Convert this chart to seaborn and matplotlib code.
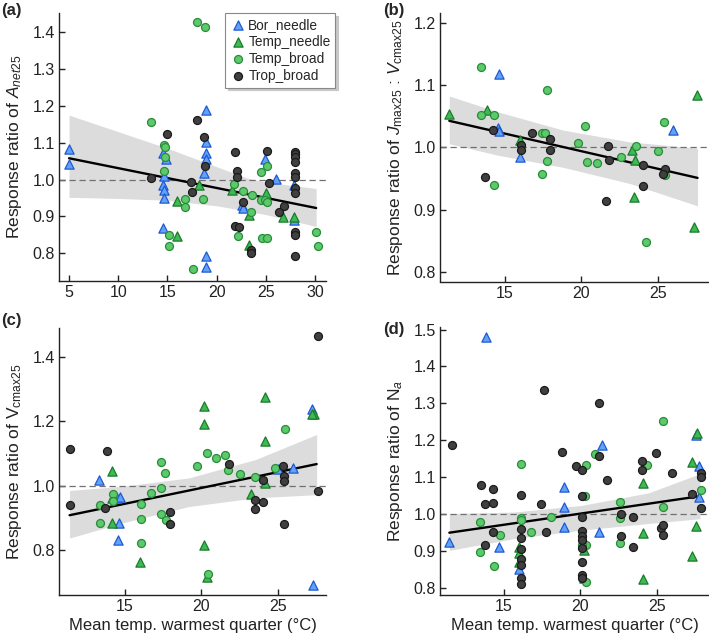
import pandas as pd
import seaborn as sns
import matplotlib.pyplot as plt

sns.set_style("ticks")
plt.rcParams["font.family"] = ["Liberation Sans", "DejaVu Sans"]
plt.rcParams["mathtext.fontset"] = "custom"
plt.rcParams["mathtext.rm"] = "Liberation Sans"
plt.rcParams["mathtext.it"] = "Liberation Sans:italic"
plt.rcParams["mathtext.bf"] = "Liberation Sans:bold"

# === Data ===
GROUPS = ["Bor_needle", "Temp_needle", "Temp_broad", "Trop_broad"]

# (a) Anet25
bor_x_a = [5.0, 5.0, 14.55, 14.86, 14.6, 14.55, 14.65, 14.65, 14.55, 18.92, 18.92, 18.92, 18.92, 18.7, 18.92, 18.92, 22.55, 22.7, 24.9, 26.0, 27.8, 27.87]
bor_y_a = [1.083, 1.043, 1.073, 1.055, 1.010, 0.986, 0.972, 0.949, 0.870, 1.189, 1.101, 1.071, 1.056, 1.017, 0.794, 0.762, 0.931, 0.922, 1.055, 1.002, 0.986, 0.891]
tn_x_a = [16.0, 16.0, 18.25, 21.53, 23.3, 23.3, 25.0, 26.7, 27.87]
tn_y_a = [0.942, 0.847, 0.986, 0.972, 0.904, 0.824, 0.963, 0.898, 0.898]
tb_x_a = [13.33, 14.65, 14.7, 14.76, 14.65, 15.13, 15.13, 16.79, 16.79, 17.64, 17.97, 18.82, 18.58, 21.8, 22.65, 22.14, 23.46, 23.6, 24.5, 24.5, 24.9, 24.58, 25.1, 25.1, 25.1, 30.1, 30.27]
tb_y_a = [1.155, 1.093, 1.088, 1.062, 1.023, 0.849, 0.821, 0.948, 0.925, 0.757, 1.428, 1.414, 0.948, 0.987, 0.969, 0.847, 0.913, 0.958, 1.02, 0.945, 0.945, 0.843, 0.841, 1.038, 0.938, 0.859, 0.821]
trb_x_a = [13.33, 14.99, 17.36, 17.47, 17.97, 18.75, 18.82, 21.87, 22.1, 22.1, 21.87, 22.28, 22.7, 23.46, 23.46, 25.1, 25.36, 26.37, 26.88,
           27.97, 27.97, 27.97, 27.97, 27.97, 27.97, 27.97, 27.97, 27.97, 27.97, 27.97]
trb_y_a = [1.005, 1.123, 0.994, 0.967, 1.162, 1.115, 1.037, 1.076, 1.024, 1.008, 0.874, 0.872, 0.938, 0.809, 0.800, 1.079, 0.992, 0.913, 0.929,
           1.076, 1.070, 1.062, 1.047, 1.017, 1.008, 0.978, 0.965, 0.859, 0.850, 0.794]
fit_x_a = [5.0, 30.1]
fit_y_a = [1.058, 0.923]
band_x_a = [5.0, 10.0, 15.0, 20.0, 23.0, 25.0, 30.1]
band_lo_a = [0.952, 0.949, 0.944, 0.929, 0.915, 0.905, 0.873]
band_hi_a = [1.175, 1.130, 1.085, 1.035, 1.005, 0.993, 0.976]

# (b) Jmax25 : Vcmax25
bor_x_b = [14.61, 14.56, 14.61, 15.98, 26.0]
bor_y_b = [1.118, 1.032, 1.027, 0.985, 1.029]
tn_x_b = [11.36, 13.8, 15.98, 23.34, 23.5, 23.45, 27.57, 27.35]
tn_y_b = [1.054, 1.061, 1.012, 0.996, 0.98, 0.921, 1.085, 0.872]
tb_x_b = [13.41, 13.41, 14.28, 14.28, 17.4, 17.61, 17.72, 17.72, 17.4, 19.75, 20.23, 20.4, 20.99, 22.58, 23.56, 25.02, 25.41, 25.46, 24.22]
tb_y_b = [1.129, 1.052, 1.052, 0.940, 1.024, 1.024, 1.093, 0.979, 0.957, 1.008, 1.035, 0.976, 0.975, 0.985, 1.002, 0.994, 1.041, 0.955, 0.848]
trb_x_b = [13.69, 14.24, 16.05, 16.05, 16.74, 17.94, 17.94, 21.75, 21.82, 21.58, 24.04, 24.04, 25.46, 25.35]
trb_y_b = [0.952, 1.029, 1.004, 0.996, 1.024, 1.013, 0.996, 1.003, 0.980, 0.914, 0.971, 0.938, 0.966, 0.958]
fit_x_b = [11.36, 27.6]
fit_y_b = [1.043, 0.951]
band_x_b = [11.36, 14.46, 18.81, 23.17, 27.6]
band_lo_b = [1.006, 0.988, 0.968, 0.942, 0.906]
band_hi_b = [1.083, 1.058, 1.028, 1.009, 0.999]

# (c) Vcmax25
bor_x_c = [13.33, 14.63, 14.57, 14.48, 14.7, 27.24, 26.0, 25.0, 27.3]
bor_y_c = [1.018, 0.883, 0.831, 0.961, 0.964, 1.237, 1.055, 1.052, 0.691]
tn_x_c = [14.15, 14.15, 14.15, 16.0, 20.17, 20.17, 20.17, 20.35, 24.15, 24.15, 24.15, 23.28, 27.35, 27.24]
tn_y_c = [1.046, 0.961, 0.883, 0.762, 1.247, 1.192, 0.814, 0.715, 1.276, 1.14, 1.008, 0.974, 1.224, 1.224]
tb_x_c = [13.37, 13.37, 14.26, 14.26, 16.04, 16.04, 16.04, 16.74, 17.37, 17.37, 17.37, 17.61, 17.72, 19.74, 20.39, 20.96, 20.43, 21.59, 21.76, 22.57, 23.54, 24.85, 25.46]
tb_y_c = [0.940, 0.883, 0.974, 0.953, 0.943, 0.896, 0.821, 0.977, 0.993, 1.074, 0.912, 1.039, 0.892, 1.060, 1.100, 1.086, 0.725, 1.094, 1.050, 1.036, 1.026, 1.055, 1.177]
trb_x_c = [11.43, 11.43, 13.87, 13.72, 17.96, 17.96, 21.8, 24.04, 24.04, 23.54, 23.54, 25.35, 25.43, 25.43, 25.43, 27.63, 27.63]
trb_y_c = [1.114, 0.940, 1.107, 0.932, 0.918, 0.881, 1.067, 1.018, 0.948, 0.954, 0.927, 1.060, 1.029, 1.015, 0.881, 1.466, 0.982]
fit_x_c = [11.4, 27.55]
fit_y_c = [0.908, 1.067]
band_x_c = [11.4, 14.85, 19.2, 23.55, 27.55]
band_lo_c = [0.837, 0.884, 0.935, 0.962, 0.972]
band_hi_c = [0.985, 0.998, 1.024, 1.081, 1.159]

# (d) Na
bor_x_d = [13.86, 11.44, 14.67, 15.99, 18.96, 18.96, 18.96, 21.42, 21.2, 27.53, 27.75, 27.75]
bor_y_d = [1.480, 0.925, 0.911, 0.850, 1.072, 1.019, 0.965, 1.187, 0.952, 1.214, 1.130, 1.047]
tn_x_d = [15.99, 15.99, 15.99, 20.23, 20.23, 24.08, 24.08, 24.08, 27.27, 27.27, 27.6, 27.53]
tn_y_d = [0.911, 0.895, 0.869, 0.902, 0.825, 1.083, 0.947, 0.823, 1.141, 0.886, 1.220, 0.967]
tb_x_d = [13.46, 13.46, 14.78, 14.34, 16.10, 16.10, 16.10, 16.76, 18.08, 20.28, 20.39, 20.39, 20.39, 20.12, 20.94, 24.34, 22.58, 22.58, 22.58, 25.4, 25.4, 27.86]
tb_y_d = [0.977, 0.897, 0.944, 0.859, 1.135, 0.988, 0.983, 0.952, 0.992, 1.049, 1.132, 0.916, 0.816, 0.916, 1.162, 1.132, 1.033, 0.988, 0.920, 1.252, 1.018, 1.066]
trb_x_d = [11.6, 13.51, 13.75, 13.75, 14.28, 14.28, 14.28,
           16.10, 16.10, 16.10, 16.10, 16.10, 16.10, 16.10, 16.10,
           17.64, 17.42, 17.75, 18.8, 19.73,
           20.12, 20.12, 20.12, 20.12, 20.12, 20.12, 20.12, 20.12, 20.12, 20.12,
           21.22, 21.22, 21.75, 22.65, 22.65, 23.46, 23.46, 24.01, 24.01, 24.96,
           25.29, 25.4, 25.4, 25.99, 27.31, 27.86, 27.86, 27.86]
trb_y_d = [1.186, 1.078, 1.026, 0.916, 1.067, 1.030, 0.952,
           1.051, 0.958, 0.935, 0.906, 0.879, 0.861, 0.827, 0.809,
           1.336, 1.028, 0.952, 1.168, 1.131,
           1.119, 1.049, 0.992, 0.953, 0.941, 0.929, 0.908, 0.869, 0.834, 0.825,
           1.300, 1.158, 1.092, 1.001, 0.940, 0.992, 0.911, 1.143, 1.119, 1.166,
           0.961, 0.943, 0.970, 1.112, 1.053, 1.112, 1.101, 1.015]
fit_x_d = [11.44, 27.81]
fit_y_d = [0.949, 1.048]
band_x_d = [11.44, 15.66, 20.06, 24.45, 27.81]
band_lo_d = [0.901, 0.933, 0.956, 0.974, 0.987]
band_hi_d = [1.001, 1.005, 1.023, 1.057, 1.109]

# === Styles ===
fills = {"Bor_needle": "#62a2f6", "Temp_needle": "#3dba52", "Temp_broad": "#5cc96c", "Trop_broad": "#404040"}
edges = {"Bor_needle": "#1f59d2", "Temp_needle": "#1c7a2d", "Temp_broad": "#2a8c3a", "Trop_broad": "#1a1a1a"}
markers = {"Bor_needle": "^", "Temp_needle": "^", "Temp_broad": "o", "Trop_broad": "o"}
sizes = {"Bor_needle": 44, "Temp_needle": 44, "Temp_broad": 33, "Trop_broad": 33}

XLABEL = "Mean temp. warmest quarter (°C)"

panels = [
    dict(pts={"Bor_needle": (bor_x_a, bor_y_a), "Temp_needle": (tn_x_a, tn_y_a),
              "Temp_broad": (tb_x_a, tb_y_a), "Trop_broad": (trb_x_a, trb_y_a)},
         fit=(fit_x_a, fit_y_a), band=(band_x_a, band_lo_a, band_hi_a),
         rect=[59 / 709, 1 - 281 / 640, 267 / 709, 268 / 640],
         xlim=(3.98, 31.1), ylim=(0.725, 1.452),
         xticks=[5, 10, 15, 20, 25, 30], yticks=[0.8, 0.9, 1.0, 1.1, 1.2, 1.3, 1.4],
         ylabel="Response ratio of $\\mathit{A}_{\\mathit{net25}}$", xlabel=None, tag="(a)", tagpos=(1, 3)),
    dict(pts={"Bor_needle": (bor_x_b, bor_y_b), "Temp_needle": (tn_x_b, tn_y_b),
              "Temp_broad": (tb_x_b, tb_y_b), "Trop_broad": (trb_x_b, trb_y_b)},
         fit=(fit_x_b, fit_y_b), band=(band_x_b, band_lo_b, band_hi_b),
         rect=[440 / 709, 1 - 281.5 / 640, 269 / 709, 268 / 640],
         xlim=(10.75, 28.35), ylim=(0.784, 1.216),
         xticks=[15, 20, 25], yticks=[0.8, 0.9, 1.0, 1.1, 1.2],
         ylabel="Response ratio of $\\mathit{J}_{\\mathrm{max25}}$ : $\\mathit{V}_{\\mathrm{cmax25}}$",
         xlabel=None, tag="(b)", tagpos=(383, 3)),
    dict(pts={"Bor_needle": (bor_x_c, bor_y_c), "Temp_needle": (tn_x_c, tn_y_c),
              "Temp_broad": (tb_x_c, tb_y_c), "Trop_broad": (trb_x_c, trb_y_c)},
         fit=(fit_x_c, fit_y_c), band=(band_x_c, band_lo_c, band_hi_c),
         rect=[59 / 709, 1 - 595 / 640, 267 / 709, 267 / 640],
         xlim=(10.71, 28.16), ylim=(0.66, 1.49),
         xticks=[15, 20, 25], yticks=[0.8, 1.0, 1.2, 1.4],
         ylabel="Response ratio of $\\mathrm{V}_{\\mathrm{cmax25}}$", xlabel=XLABEL, tag="(c)", tagpos=(1, 313)),
    dict(pts={"Bor_needle": (bor_x_d, bor_y_d), "Temp_needle": (tn_x_d, tn_y_d),
              "Temp_broad": (tb_x_d, tb_y_d), "Trop_broad": (trb_x_d, trb_y_d)},
         fit=(fit_x_d, fit_y_d), band=(band_x_d, band_lo_d, band_hi_d),
         rect=[440 / 709, 1 - 595 / 640, 269 / 709, 268 / 640],
         xlim=(10.83, 28.4), ylim=(0.78, 1.507),
         xticks=[15, 20, 25], yticks=[0.8, 0.9, 1.0, 1.1, 1.2, 1.3, 1.4, 1.5],
         ylabel="Response ratio of $\\mathrm{N}_{\\mathit{a}}$", xlabel=XLABEL, tag="(d)", tagpos=(383, 322)),
]

fig = plt.figure(figsize=(7.09, 6.40), dpi=100)

for i, p in enumerate(panels):
    ax = fig.add_axes(p["rect"])
    bx, blo, bhi = p["band"]
    ax.fill_between(bx, blo, bhi, color="#dcdcdc", lw=0, zorder=1)
    ax.axhline(1.0, color="#707070", lw=0.9, ls=(0, (5, 3)), zorder=1.5)
    sns.lineplot(x=p["fit"][0], y=p["fit"][1], color="black", lw=1.7, ax=ax, zorder=2)

    for g in GROUPS:
        gx, gy = p["pts"][g]
        df = pd.DataFrame({"x": gx, "y": gy})
        sns.scatterplot(data=df, x="x", y="y", marker=markers[g], s=sizes[g],
                        color=fills[g], edgecolor=edges[g], linewidth=0.9,
                        label=g if i == 0 else None, ax=ax, zorder=3, clip_on=False)

    ax.set_xlim(*p["xlim"])
    ax.set_ylim(*p["ylim"])
    ax.set_xticks(p["xticks"])
    ax.set_yticks(p["yticks"])
    ax.set_yticklabels([f"{v:.1f}" for v in p["yticks"]])
    ax.tick_params(direction="in", length=4.5, width=1, labelsize=11.5, pad=3, colors="#222222")
    for s in ["top", "right"]:
        ax.spines[s].set_visible(False)
    for s in ["left", "bottom"]:
        ax.spines[s].set_linewidth(1.0)
        ax.spines[s].set_color("#222222")
    ax.set_ylabel(p["ylabel"], fontsize=12.5, labelpad=6, color="#222222")
    if p["xlabel"]:
        ax.set_xlabel(p["xlabel"], fontsize=12, labelpad=3, color="#222222")
    else:
        ax.set_xlabel("")

    if i == 0:
        leg = ax.legend(loc="upper right", bbox_to_anchor=(1.035, 1.0), fontsize=9.8,
                        frameon=True, fancybox=False, edgecolor="#888888",
                        shadow={"color": "#c8c8c8", "alpha": 1.0},
                        handletextpad=0.15, borderpad=0.35, labelspacing=0.22,
                        handlelength=1.2, borderaxespad=0.0)
        leg.get_frame().set_linewidth(0.8)
    elif ax.get_legend() is not None:
        ax.get_legend().remove()

    fig.text(p["tagpos"][0] / 709, 1 - p["tagpos"][1] / 640, p["tag"], fontsize=12,
             fontweight="bold", ha="left", va="top")

fig.savefig("out.png", dpi=100)
